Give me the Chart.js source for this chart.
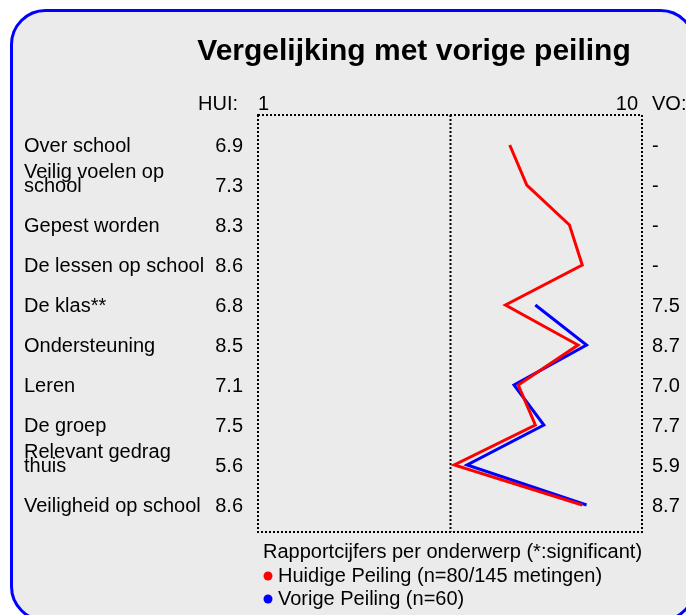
<!DOCTYPE html>
<html lang="nl">
<head>
<meta charset="utf-8">
<title>Vergelijking met vorige peiling</title>
<script src="https://cdn.jsdelivr.net/npm/chart.js@4.4.1/dist/chart.umd.min.js"></script>
<style>
    html, body { margin: 0; padding: 0; background: #ffffff; }
    #wrap { width: 686px; height: 615px; position: relative; }
</style>
</head>
<body>
<div id="wrap"><canvas id="peilingChart" width="686" height="615"></canvas></div>
<script>
/* Onderwerpen (rijen) */
const categories = [
    'Over school',
    ['Veilig voelen op', 'school'],
    'Gepest worden',
    'De lessen op school',
    'De klas**',
    'Ondersteuning',
    'Leren',
    'De groep',
    ['Relevant gedrag', 'thuis'],
    'Veiligheid op school'
];

/* Huidige peiling (HUI) */
const huidigeScores = [6.9, 7.3, 8.3, 8.6, 6.8, 8.5, 7.1, 7.5, 5.6, 8.6];

/* Vorige peiling (VO), null = geen meting */
const vorigeScores = [null, null, null, null, 7.5, 8.7, 7.0, 7.7, 5.9, 8.7];

/* Schaal */
const scaleMin = 1;
const scaleMax = 10;
const scaleMid = 5.5;

const titleText = 'Vergelijking met vorige peiling';
const legendTitle = 'Rapportcijfers per onderwerp (*:significant)';
const legendLabels = ['Huidige Peiling (n=80/145 metingen)', 'Vorige Peiling (n=60)'];
const legendColors = ['#ff0000', '#0000ff'];

const FONT = '"Liberation Sans", Arial, sans-serif';

// punten voor de lijnen: x = cijfer, y = rij-index
function toPoints(values) {
    const pts = [];
    values.forEach((v, i) => {
        if (v !== null) pts.push({ x: v, y: i });
    });
    return pts;
}

/**
 * Achtergrond: afgerond kader
 */
const framePlugin = {
    id: 'frame',
    beforeDraw(chart) {
        const ctx = chart.ctx;
        ctx.save();
        ctx.beginPath();
        ctx.roundRect(11.5, 10.5, 683, 610, 34);
        ctx.fillStyle = '#ebebeb';
        ctx.fill();
        ctx.lineWidth = 3;
        ctx.strokeStyle = '#0000ff';
        ctx.stroke();

        // gestippelde rand van het plotvlak + middellijn
        const { left, right, top, bottom } = chart.chartArea;
        const xs = chart.scales.x;
        const mid = Math.round(xs.getPixelForValue(scaleMid)) + 0.5;
        ctx.strokeStyle = '#000000';
        ctx.lineWidth = 2;
        ctx.setLineDash([2, 2]);
        ctx.strokeRect(left, top, right - left, bottom - top);
        ctx.beginPath();
        ctx.moveTo(mid, top);
        ctx.lineTo(mid, bottom);
        ctx.stroke();
        ctx.restore();
    }
};

/**
 * Teksten: titel, rij-labels, cijfers en legenda
 */
const textPlugin = {
    id: 'texts',
    afterDraw(chart) {
        const ctx = chart.ctx;
        const xs = chart.scales.x;
        const ys = chart.scales.y;
        const { bottom } = chart.chartArea;

        ctx.save();
        ctx.fillStyle = '#000000';

        // titel
        ctx.font = 'bold 30px ' + FONT;
        ctx.textAlign = 'center';
        ctx.textBaseline = 'middle';
        ctx.fillText(titleText, 414, 52);

        // kopregel boven het plotvlak
        ctx.font = '20px ' + FONT;
        ctx.textBaseline = 'alphabetic';
        ctx.textAlign = 'right';
        ctx.fillText('HUI:', 238, 110);
        ctx.fillText(String(scaleMax), xs.getPixelForValue(scaleMax) - 4, 110);
        ctx.textAlign = 'left';
        ctx.fillText(String(scaleMin), xs.getPixelForValue(scaleMin), 110);
        ctx.fillText('VO:', 652, 110);

        // rijen
        categories.forEach((cat, i) => {
            const base = ys.getPixelForValue(i) + 7;
            ctx.textAlign = 'left';
            if (Array.isArray(cat)) {
                ctx.fillText(cat[0], 24, base - 14);
                ctx.fillText(cat[1], 24, base);
            } else {
                ctx.fillText(cat, 24, base);
            }
            ctx.textAlign = 'right';
            ctx.fillText(huidigeScores[i].toFixed(1), 243, base);
            ctx.textAlign = 'left';
            const vo = vorigeScores[i];
            ctx.fillText(vo === null ? '-' : vo.toFixed(1), 652, base);
        });

        // legenda
        ctx.textAlign = 'left';
        ctx.fillText(legendTitle, 263, bottom + 26);
        legendLabels.forEach((label, i) => {
            const y = bottom + 50 + i * 23;
            ctx.beginPath();
            ctx.arc(268, y - 6, 4.5, 0, Math.PI * 2);
            ctx.fillStyle = legendColors[i];
            ctx.fill();
            ctx.fillStyle = '#000000';
            ctx.fillText(label, 278, y);
        });
        ctx.restore();
    }
};

const chart = new Chart(document.getElementById('peilingChart'), {
    type: 'line',
    data: {
        datasets: [
            {
                label: legendLabels[0],
                data: toPoints(huidigeScores),
                borderColor: legendColors[0],
                borderWidth: 3,
                pointRadius: 0,
                tension: 0
            },
            {
                label: legendLabels[1],
                data: toPoints(vorigeScores),
                borderColor: legendColors[1],
                borderWidth: 3,
                pointRadius: 0,
                tension: 0
            }
        ]
    },
    options: {
        responsive: false,
        animation: false,
        layout: {
            padding: { left: 258, right: 44, top: 115, bottom: 83 }
        },
        scales: {
            x: {
                type: 'linear',
                min: scaleMin,
                max: scaleMax,
                display: false
            },
            y: {
                type: 'linear',
                reverse: true,
                min: -0.75,
                max: 9.675,
                display: false
            }
        },
        plugins: {
            legend: { display: false },
            tooltip: { enabled: false }
        }
    },
    plugins: [framePlugin, textPlugin]
});
</script>
</body>
</html>
